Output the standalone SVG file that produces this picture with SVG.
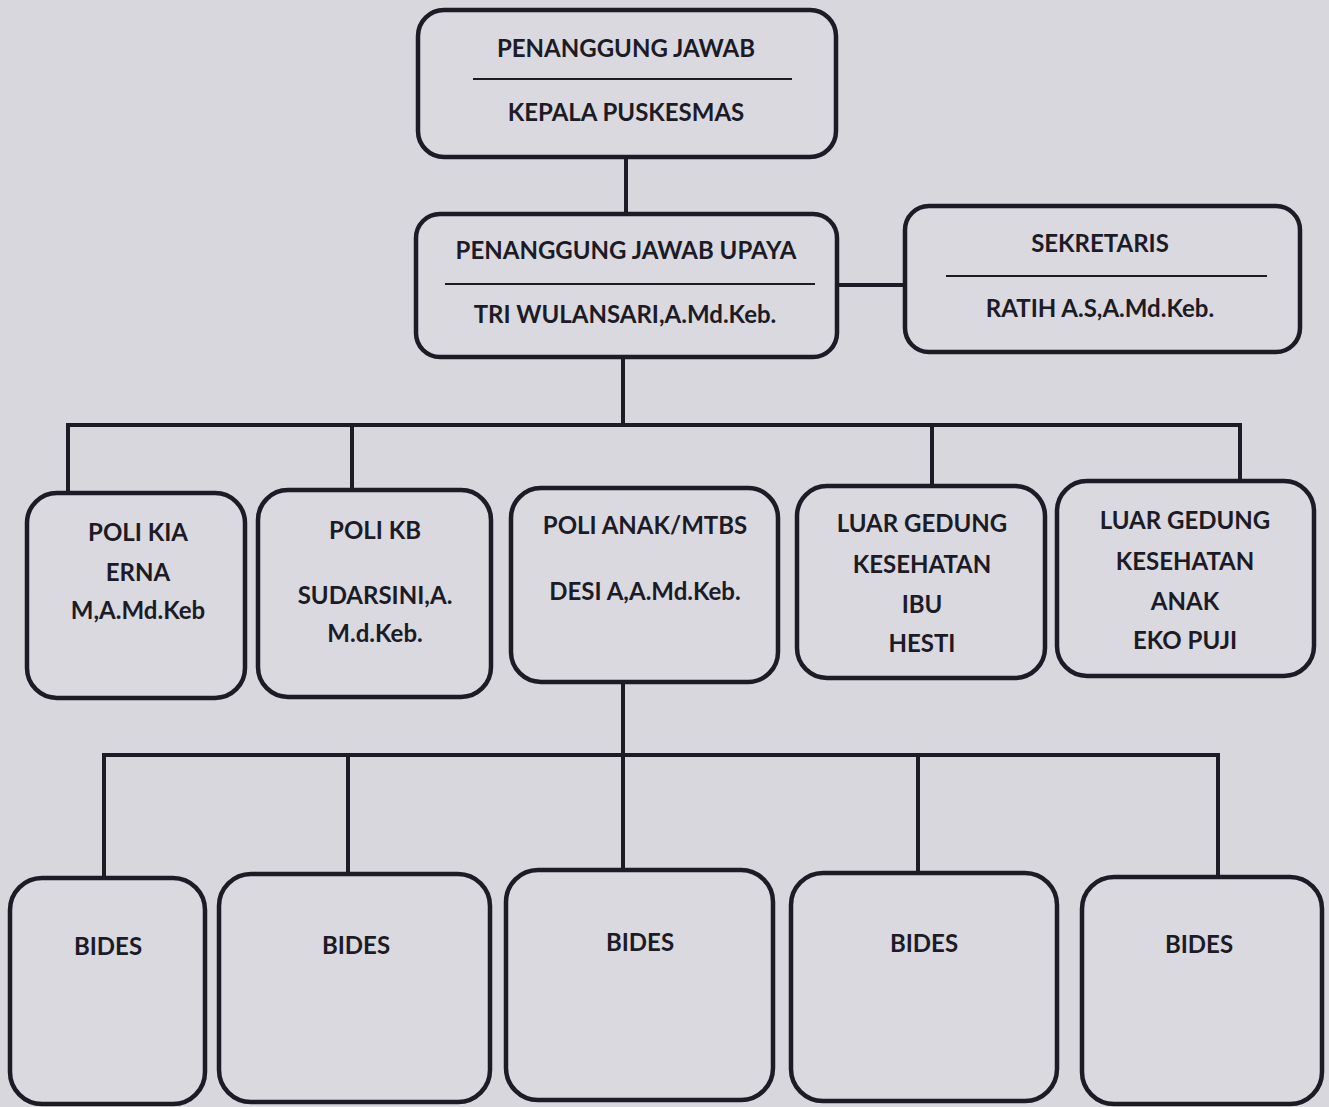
<svg xmlns="http://www.w3.org/2000/svg" width="1329" height="1107" viewBox="0 0 1329 1107">
<style>
.box{fill:#d9d9df;stroke:#1c1b26;stroke-width:4.5}
.div{stroke:#1c1b26;stroke-width:2}
.ln{fill:none;stroke:#1c1b26;stroke-width:4}
text{font-family:Lato,"Open Sans","Liberation Sans",sans-serif;font-weight:bold;font-size:24px;fill:#1c1b26;text-anchor:middle}
</style>
<rect width="1329" height="1107" fill="#d7d7dd"/>
<g id="connectors">
<path class="ln" d="M626 157V215"/>
<path class="ln" d="M837 285H905"/>
<path class="ln" d="M623 357V425"/>
<path class="ln" d="M68 494V425H1240V481"/>
<path class="ln" d="M352 490V425"/>
<path class="ln" d="M932 486V425"/>
<path class="ln" d="M623 682V754"/>
<path class="ln" d="M104 878V755H1218V877"/>
<path class="ln" d="M348 874V755"/>
<path class="ln" d="M918 873V755"/>
<path class="ln" d="M623 870V755"/>
</g>
<g id="kepala">
<rect class="box" x="418" y="10" width="418" height="147" rx="26"/>
<text x="626" y="57">PENANGGUNG JAWAB</text>
<line class="div" x1="473" y1="79" x2="792" y2="79"/>
<text x="626" y="121">KEPALA PUSKESMAS</text>
</g>
<g id="upaya">
<rect class="box" x="416" y="214" width="421" height="143" rx="24"/>
<text x="626" y="259">PENANGGUNG JAWAB UPAYA</text>
<line class="div" x1="445" y1="284" x2="815" y2="284"/>
<text x="625" y="323">TRI WULANSARI,A.Md.Keb.</text>
</g>
<g id="sekretaris">
<rect class="box" x="905" y="206" width="395" height="146" rx="24"/>
<text x="1100" y="252">SEKRETARIS</text>
<line class="div" x1="946" y1="276" x2="1267" y2="276"/>
<text x="1100" y="317">RATIH A.S,A.Md.Keb.</text>
</g>
<g id="poli-kia">
<rect class="box" x="27" y="493" width="218" height="205" rx="30"/>
<text x="138" y="541">POLI KIA</text>
<text x="138" y="581">ERNA</text>
<text x="138" y="619">M,A.Md.Keb</text>
</g>
<g id="poli-kb">
<rect class="box" x="258" y="490" width="233" height="207" rx="30"/>
<text x="375" y="539">POLI KB</text>
<text x="375" y="604">SUDARSINI,A.</text>
<text x="375" y="642">M.d.Keb.</text>
</g>
<g id="poli-anak">
<rect class="box" x="511" y="488" width="267" height="194" rx="30"/>
<text x="645" y="534">POLI ANAK/MTBS</text>
<text x="645" y="600">DESI A,A.Md.Keb.</text>
</g>
<g id="luar-ibu">
<rect class="box" x="797" y="486" width="248" height="192" rx="30"/>
<text x="922" y="532">LUAR GEDUNG</text>
<text x="922" y="573">KESEHATAN</text>
<text x="922" y="613">IBU</text>
<text x="922" y="652">HESTI</text>
</g>
<g id="luar-anak">
<rect class="box" x="1057" y="481" width="257" height="195" rx="30"/>
<text x="1185" y="529">LUAR GEDUNG</text>
<text x="1185" y="570">KESEHATAN</text>
<text x="1185" y="610">ANAK</text>
<text x="1185" y="649">EKO PUJI</text>
</g>
<g id="bides-1">
<rect class="box" x="10" y="878" width="195" height="226" rx="32"/>
<text x="108" y="955">BIDES</text>
</g>
<g id="bides-2">
<rect class="box" x="219" y="874" width="271" height="228" rx="32"/>
<text x="356" y="954">BIDES</text>
</g>
<g id="bides-3">
<rect class="box" x="506" y="870" width="267" height="230" rx="32"/>
<text x="640" y="951">BIDES</text>
</g>
<g id="bides-4">
<rect class="box" x="791" y="873" width="266" height="228" rx="32"/>
<text x="924" y="952">BIDES</text>
</g>
<g id="bides-5">
<rect class="box" x="1082" y="877" width="240" height="227" rx="32"/>
<text x="1199" y="953">BIDES</text>
</g>
</svg>
